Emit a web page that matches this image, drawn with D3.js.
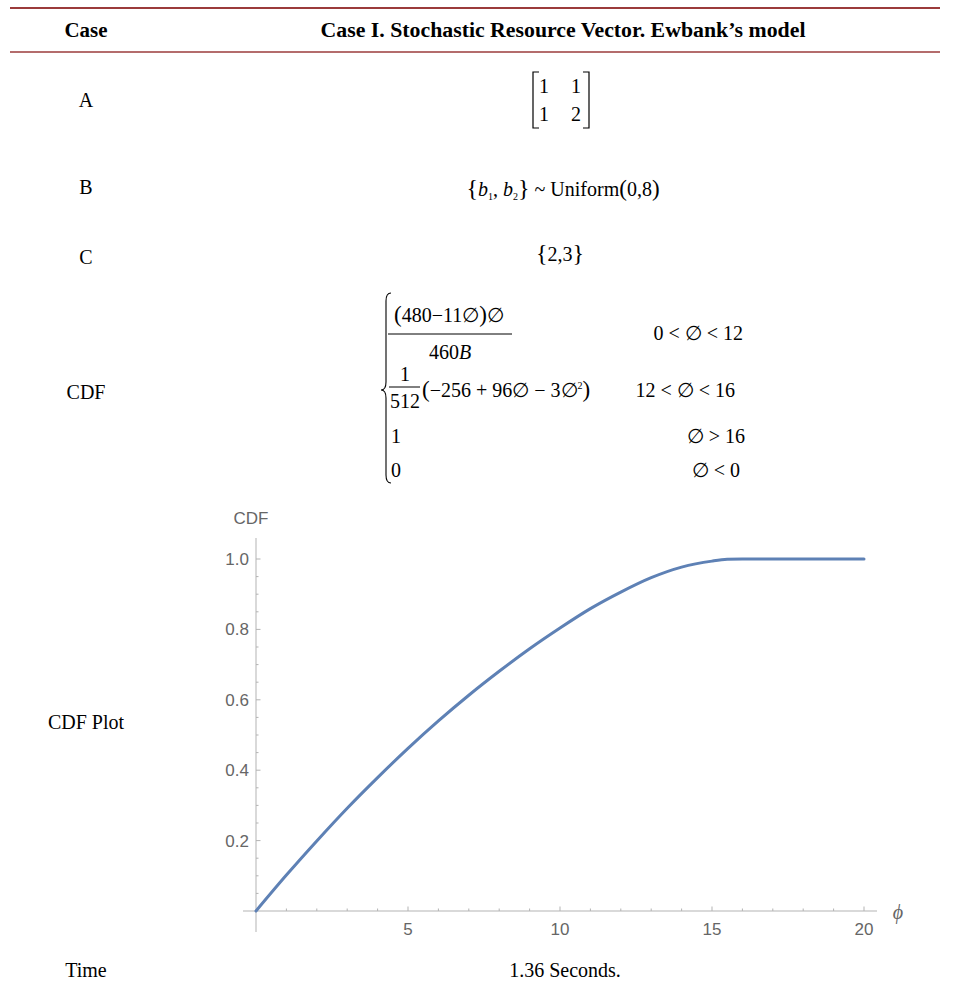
<!DOCTYPE html>
<html>
<head>
<meta charset="utf-8">
<script src="https://cdn.jsdelivr.net/npm/d3@7"></script>
<style>
	body { margin: 0; background: #fff; }
	svg { display: block; }
</style>
</head>
<body>
<div id="chart"></div>
<script>
/////////////////
// "CONSTANTS" //
/////////////////
var WIDTH = 954;
var HEIGHT = 990;
var RULE_COLOR = "#9b3b3b";
var SERIF = "'Liberation Serif', 'Times New Roman', serif";
var SANS = "'Liberation Sans', Arial, sans-serif";
var LINE_COLOR = "#5e81b5";
var AXIS_COLOR = "#b3b3b3";
var TICK_TEXT_COLOR = "#666";
var LABEL_X = 86;
var VALUE_X = 563;

//////////
// DATA //
//////////
var header = ["Case", "Case I. Stochastic Resource Vector. Ewbank\u2019s model"];
var rowLabels = ["A", "B", "C", "CDF", "CDF Plot", "Time"];
var rowY = [100, 187, 257, 392, 722, 970];
var matrixA = [[1, 1], [1, 2]];
var vectorC = [2, 3];
var timeText = "1.36 Seconds.";

// CDF curve
var phi = [0, 1, 2, 3, 4, 5, 6, 7, 8, 9, 10, 11, 12, 13, 14, 15, 15.5, 16, 17, 18, 19, 20];
var cdf = [0, 0.102, 0.199, 0.292, 0.379, 0.462, 0.540, 0.613, 0.681, 0.745, 0.804, 0.859, 0.906, 0.947, 0.977, 0.994, 0.999, 1, 1, 1, 1, 1];
var xTicks = [5, 10, 15, 20];
var yTicks = [0.2, 0.4, 0.6, 0.8, 1.0];

var svg = d3.select("#chart").append("svg")
	.attr("width", WIDTH)
	.attr("height", HEIGHT);

///////////
// TABLE //
///////////
svg.append("line").attr("x1", 10).attr("x2", 940).attr("y1", 8).attr("y2", 8)
	.attr("stroke", RULE_COLOR).attr("stroke-width", 2);
svg.append("line").attr("x1", 10).attr("x2", 940).attr("y1", 52).attr("y2", 52)
	.attr("stroke", RULE_COLOR).attr("stroke-width", 1.5);

svg.append("text")
	.attr("x", LABEL_X).attr("y", 37)
	.attr("text-anchor", "middle")
	.attr("font-family", SERIF).attr("font-weight", "bold").attr("font-size", 20)
	.attr("textLength", 43).attr("lengthAdjust", "spacingAndGlyphs")
	.text(header[0]);
svg.append("text")
	.attr("x", VALUE_X).attr("y", 37)
	.attr("text-anchor", "middle")
	.attr("font-family", SERIF).attr("font-weight", "bold").attr("font-size", 20)
	.attr("textLength", 485).attr("lengthAdjust", "spacingAndGlyphs")
	.text(header[1]);

svg.selectAll("text.rowlabel")
	.data(rowLabels)
	.enter().append("text")
	.attr("class", "rowlabel")
	.attr("x", LABEL_X)
	.attr("y", function(d, i) { return rowY[i]; })
	.attr("dy", "0.35em")
	.attr("text-anchor", "middle")
	.attr("font-family", SERIF).attr("font-size", 20)
	.text(function(d) { return d; });

// A: matrix
var mat = svg.append("g").attr("font-family", SERIF).attr("font-size", 20);
mat.append("path")
	.attr("d", "M539,72 L533,72 L533,128 L539,128")
	.attr("fill", "none").attr("stroke", "#000").attr("stroke-width", 1.2);
mat.append("path")
	.attr("d", "M583,72 L589,72 L589,128 L583,128")
	.attr("fill", "none").attr("stroke", "#000").attr("stroke-width", 1.2);
matrixA.forEach(function(row, r) {
	row.forEach(function(v, c) {
		mat.append("text")
			.attr("x", c == 0 ? 544 : 576)
			.attr("y", r == 0 ? 86 : 114)
			.attr("dy", "0.35em")
			.attr("text-anchor", "middle")
			.text(v);
	});
});

// B: distribution
var bText = svg.append("text")
	.attr("x", VALUE_X).attr("y", 189)
	.attr("dy", "0.35em")
	.attr("text-anchor", "middle")
	.attr("font-family", SERIF).attr("font-size", 20);
bText.append("tspan").attr("font-size", 24).text("{");
bText.append("tspan").attr("font-style", "italic").text("b");
bText.append("tspan").attr("font-size", 10).attr("dy", 4).text("1");
bText.append("tspan").attr("dy", -4).text(", ");
bText.append("tspan").attr("font-style", "italic").text("b");
bText.append("tspan").attr("font-size", 10).attr("dy", 4).text("2");
bText.append("tspan").attr("dy", -4).attr("font-size", 24).text("}");
bText.append("tspan").text(" ~ Uniform");
bText.append("tspan").attr("font-size", 23).text("(");
bText.append("tspan").text("0,8");
bText.append("tspan").attr("font-size", 23).text(")");

// C: vector
var cText = svg.append("text")
	.attr("x", VALUE_X - 3).attr("y", 254)
	.attr("dy", "0.35em")
	.attr("text-anchor", "middle")
	.attr("font-family", SERIF).attr("font-size", 20);
cText.append("tspan").attr("font-size", 24).text("{");
cText.append("tspan").text(vectorC.join(","));
cText.append("tspan").attr("font-size", 24).text("}");

// CDF: piecewise
var pw = svg.append("g").attr("font-family", SERIF).attr("font-size", 20);
var braceX = 386, braceTop = 293, braceBot = 483, braceMid = 390;
pw.append("path")
	.attr("d", "M" + (braceX + 5) + "," + braceTop + " Q" + braceX + "," + braceTop + " " + braceX + "," + (braceTop + 8) +
		" L" + braceX + "," + (braceMid - 8) + " Q" + braceX + "," + braceMid + " " + (braceX - 5) + "," + braceMid +
		" Q" + braceX + "," + braceMid + " " + braceX + "," + (braceMid + 8) +
		" L" + braceX + "," + (braceBot - 8) + " Q" + braceX + "," + braceBot + " " + (braceX + 5) + "," + braceBot)
	.attr("fill", "none").attr("stroke", "#000").attr("stroke-width", 1.1);

var num = pw.append("text").attr("x", 449).attr("y", 315).attr("dy", "0.35em").attr("text-anchor", "middle");
num.append("tspan").attr("font-size", 23).text("(");
num.append("tspan").text("480\u221211\u2205");
num.append("tspan").attr("font-size", 23).text(")");
num.append("tspan").text("\u2205");
pw.append("line").attr("x1", 388).attr("x2", 512).attr("y1", 334).attr("y2", 334)
	.attr("stroke", "#000").attr("stroke-width", 1);
var den = pw.append("text").attr("x", 450).attr("y", 352).attr("dy", "0.35em").attr("text-anchor", "middle");
den.append("tspan").text("460");
den.append("tspan").attr("font-style", "italic").text("B");
pw.append("text").attr("x", 743).attr("y", 333).attr("dy", "0.35em").attr("text-anchor", "end")
	.text("0 < \u2205 < 12");

pw.append("text").attr("x", 405).attr("y", 374).attr("dy", "0.35em").attr("text-anchor", "middle").text("1");
pw.append("line").attr("x1", 389).attr("x2", 420).attr("y1", 387).attr("y2", 387)
	.attr("stroke", "#000").attr("stroke-width", 1);
pw.append("text").attr("x", 405).attr("y", 401).attr("dy", "0.35em").attr("text-anchor", "middle").text("512");
var quad = pw.append("text").attr("x", 422).attr("y", 390).attr("dy", "0.35em");
quad.append("tspan").attr("font-size", 23).text("(");
quad.append("tspan").text("\u2212256 + 96\u2205 \u2212 3\u2205");
quad.append("tspan").attr("font-size", 10).attr("dy", -8).text("2");
quad.append("tspan").attr("font-size", 23).attr("dy", 8).text(")");
pw.append("text").attr("x", 735).attr("y", 390).attr("dy", "0.35em").attr("text-anchor", "end")
	.text("12 < \u2205 < 16");

pw.append("text").attr("x", 391).attr("y", 436).attr("dy", "0.35em").text("1");
pw.append("text").attr("x", 745).attr("y", 436).attr("dy", "0.35em").attr("text-anchor", "end")
	.text("\u2205 > 16");
pw.append("text").attr("x", 391).attr("y", 470).attr("dy", "0.35em").text("0");
pw.append("text").attr("x", 740).attr("y", 470).attr("dy", "0.35em").attr("text-anchor", "end")
	.text("\u2205 < 0");

// Time
svg.append("text")
	.attr("x", 565).attr("y", 970)
	.attr("dy", "0.35em")
	.attr("text-anchor", "middle")
	.attr("font-family", SERIF).attr("font-size", 20)
	.text(timeText);

///////////
// CHART //
///////////
var x = d3.scaleLinear().domain([0, 20]).range([256, 864]);
var y = d3.scaleLinear().domain([0, 1]).range([911, 559]);
var plot = svg.append("g");

// axes lines
plot.append("line").attr("x1", 243).attr("x2", 877).attr("y1", y(0)).attr("y2", y(0))
	.attr("stroke", AXIS_COLOR).attr("stroke-width", 1);
plot.append("line").attr("x1", x(0)).attr("x2", x(0)).attr("y1", 538).attr("y2", 932)
	.attr("stroke", AXIS_COLOR).attr("stroke-width", 1);

// minor + major ticks, pointing into the plot
var xMinor = d3.range(1, 21).filter(function(d) { return d % 5 != 0; });
var yMinor = d3.range(1, 21).map(function(d) { return d / 20; }).filter(function(d, i) { return (i + 1) % 4 != 0; });
plot.selectAll("line.xminor").data(xMinor).enter().append("line")
	.attr("x1", x).attr("x2", x)
	.attr("y1", y(0)).attr("y2", y(0) - 2.5)
	.attr("stroke", AXIS_COLOR);
plot.selectAll("line.xmajor").data(xTicks).enter().append("line")
	.attr("x1", x).attr("x2", x)
	.attr("y1", y(0)).attr("y2", y(0) - 4.5)
	.attr("stroke", AXIS_COLOR);
plot.selectAll("line.yminor").data(yMinor).enter().append("line")
	.attr("y1", y).attr("y2", y)
	.attr("x1", x(0)).attr("x2", x(0) + 2.5)
	.attr("stroke", AXIS_COLOR);
plot.selectAll("line.ymajor").data(yTicks).enter().append("line")
	.attr("y1", y).attr("y2", y)
	.attr("x1", x(0)).attr("x2", x(0) + 4.5)
	.attr("stroke", AXIS_COLOR);

// tick labels
plot.selectAll("text.xt").data(xTicks).enter().append("text")
	.attr("x", x).attr("y", y(0) + 18)
	.attr("dy", "0.35em")
	.attr("text-anchor", "middle")
	.attr("font-family", SANS).attr("font-size", 17)
	.attr("fill", TICK_TEXT_COLOR)
	.text(function(d) { return d; });
plot.selectAll("text.yt").data(yTicks).enter().append("text")
	.attr("x", x(0) - 7).attr("y", y)
	.attr("dy", "0.35em")
	.attr("text-anchor", "end")
	.attr("font-family", SANS).attr("font-size", 17)
	.attr("fill", TICK_TEXT_COLOR)
	.text(function(d) { return d.toFixed(1); });

// axis labels
plot.append("text")
	.attr("x", 251).attr("y", 518).attr("dy", "0.35em")
	.attr("text-anchor", "middle")
	.attr("font-family", SANS).attr("font-size", 17)
	.attr("fill", TICK_TEXT_COLOR)
	.text("CDF");
plot.append("text")
	.attr("x", 898).attr("y", 912).attr("dy", "0.35em")
	.attr("text-anchor", "middle")
	.attr("font-family", SERIF).attr("font-style", "italic").attr("font-size", 20)
	.attr("fill", TICK_TEXT_COLOR)
	.text("\u03d5");

// curve
var line = d3.line()
	.x(function(d, i) { return x(phi[i]); })
	.y(function(d) { return y(d); })
	.curve(d3.curveMonotoneX);
plot.append("path")
	.datum(cdf)
	.attr("d", line)
	.attr("fill", "none")
	.attr("stroke", LINE_COLOR)
	.attr("stroke-width", 3)
	.attr("stroke-linecap", "round");
</script>
</body>
</html>
